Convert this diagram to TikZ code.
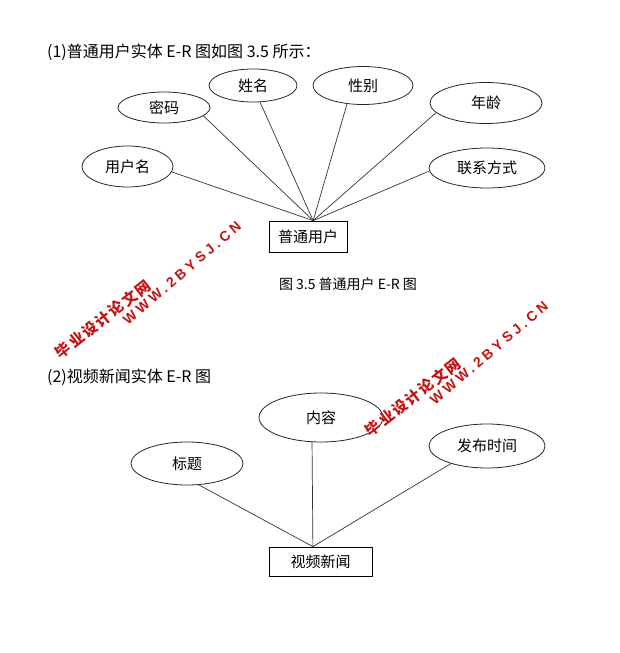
\documentclass[tikz,border=0pt]{standalone}
\usepackage{fontspec}
\setmainfont{Noto Sans CJK SC}
\newfontfamily\wmcjk[LetterSpace=12]{Noto Sans CJK SC}
\newfontfamily\wmlat[LetterSpace=25]{Liberation Sans}
\usetikzlibrary{shapes.geometric}
\definecolor{wmred}{RGB}{196,18,18}
\begin{document}
\begin{tikzpicture}[x=1pt,y=-1pt,
  font=\fontsize{15}{18}\selectfont,
  attr/.style={ellipse, draw=black!85, line width=0.8pt, inner sep=0pt},
  ent/.style={rectangle, draw=black, line width=0.8pt, inner sep=0pt},
  link/.style={draw=black!80, line width=0.7pt},
  heading/.style={anchor=west, inner sep=0pt, font=\fontsize{16}{19}\selectfont},
  wmc/.style={text=wmred, font=\wmcjk\bfseries\fontsize{15}{17}\selectfont, rotate=38},
  wml/.style={text=wmred, font=\wmlat\bfseries\fontsize{14}{16}\selectfont, rotate=40.5}]
\useasboundingbox (0,0) rectangle (619,653);

% titles
\node[heading] (t1) at (47,52) {(1)普通用户实体 E-R 图如图 3.5 所示：};
\node[inner sep=0pt, font=\fontsize{14}{16}\selectfont] (cap) at (348,284) {图 3.5 普通用户 E-R 图};
\node[heading] (t2) at (47,377) {(2)视频新闻实体 E-R 图};

% first diagram
\node[ent, minimum width=78pt, minimum height=31pt] (user) at (308,236.5) {普通用户};
\node[attr, minimum width=91pt, minimum height=41pt] (uname) at (127.5,166.5) {用户名};
\node[attr, minimum width=92pt, minimum height=31pt] (pwd) at (164,107.5) {密码};
\node[attr, minimum width=88pt, minimum height=33pt] (name) at (253,85.5) {姓名};
\node[attr, minimum width=100pt, minimum height=38pt] (sex) at (363,85.5) {性别};
\node[attr, minimum width=112pt, minimum height=41pt] (age) at (486,103) {年龄};
\node[attr, minimum width=116pt, minimum height=40pt] (contact) at (487,168) {联系方式};

\draw[link] (uname.-7) -- (user.72);
\draw[link] (pwd.-12) -- (user.72);
\draw[link] (name.-67) -- (user.72);
\draw[link] (sex.-131) -- (user.72);
\draw[link] (age.-169) -- (user.72);
\draw[link] (contact.-177) -- (user.72);

% second diagram
\node[ent, minimum width=103pt, minimum height=29pt] (news) at (320.5,561.5) {视频新闻};
\node[attr, minimum width=112pt, minimum height=43pt] (title) at (187,463.5) {标题};
\node[attr, minimum width=124pt, minimum height=49pt] (content) at (321,417.5) {内容};
\node[attr, minimum width=116pt, minimum height=44pt] (time) at (487,446) {发布时间};

\draw[link] (title.-61) -- (news.117);
\draw[link] (content.-110) -- (news.117);
\draw[link] (time.-154) -- (news.117);

% watermarks
\node[wmc] (wm1a) at (103,319) {毕业设计论文网};
\node[wml] (wm1b) at (182,273) {WWW.2BYSJ.CN};
\node[wmc] (wm2a) at (413,397) {毕业设计论文网};
\node[wml] (wm2b) at (489,353) {WWW.2BYSJ.CN};
\end{tikzpicture}
\end{document}
